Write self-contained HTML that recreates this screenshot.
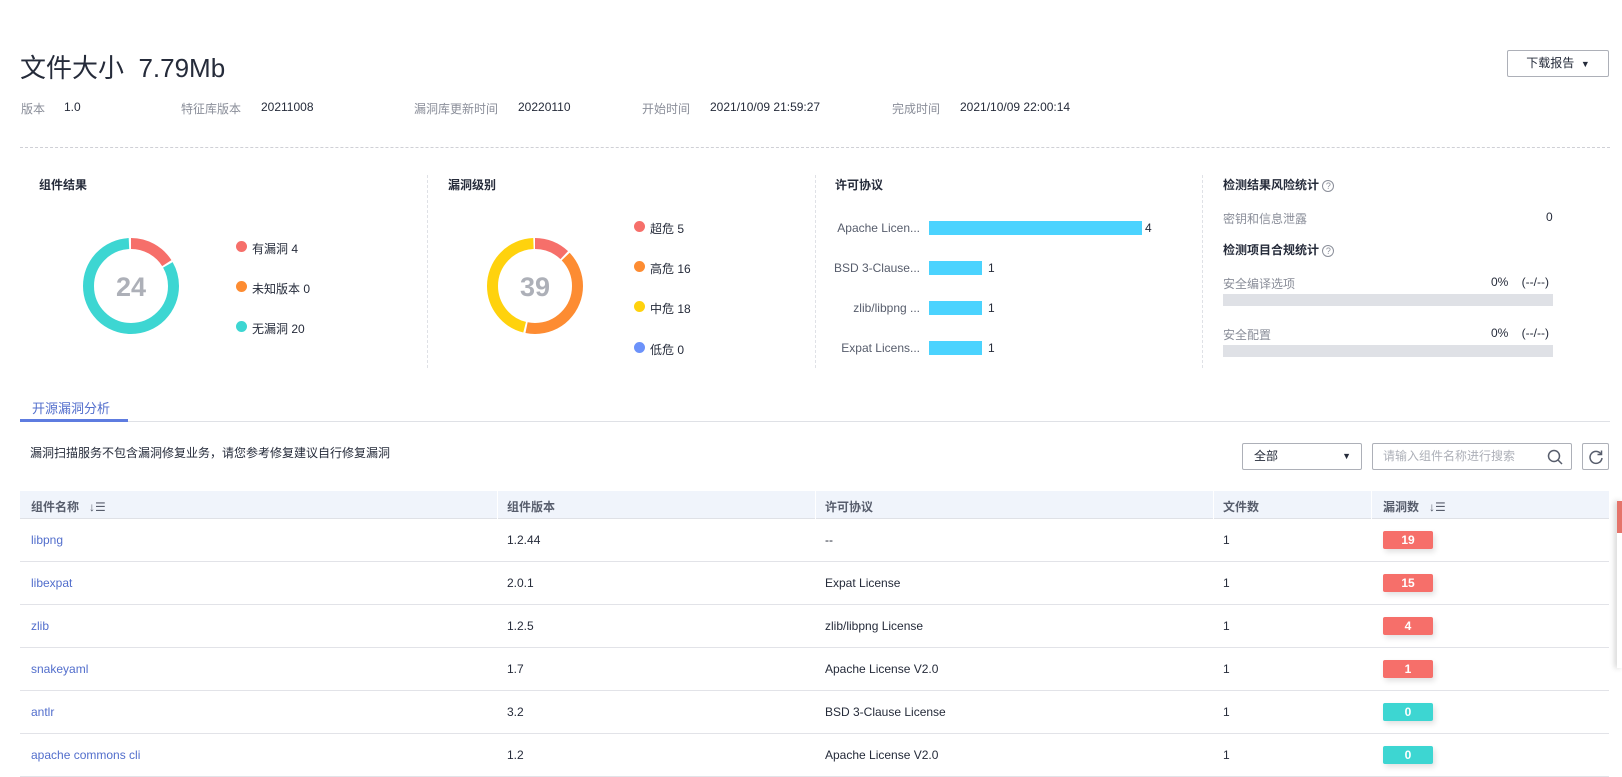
<!DOCTYPE html>
<html><head><meta charset="utf-8"><style>
*{margin:0;padding:0;box-sizing:border-box}
body{width:1622px;height:765px;overflow:hidden;background:#fff;font-family:"Liberation Sans","Noto Sans CJK SC",sans-serif;color:#252b3a;font-size:12px;position:relative}
.a{position:absolute;white-space:nowrap}
.g{color:#8a8e99}
.t{font-weight:bold;font-size:12px;color:#252b3a}
.vd{position:absolute;width:0;border-left:1px dashed #dfe1e6;top:175px;height:193px}
.dot{position:absolute;width:11px;height:11px;border-radius:50%}
.bar{position:absolute;height:14px;background:#4bd3fe;left:929px}
.row{position:absolute;left:20px;width:1589px;height:43px;border-bottom:1px solid #e2e3e8}
.row .a{top:0;line-height:43px}
.badge{position:absolute;left:1363px;top:12px;width:50px;height:18px;line-height:18px;text-align:center;color:#fff;font-weight:bold;border-radius:2px;box-shadow:2px 3px 6px rgba(0,0,0,.12)}
.lk{color:#526ecc}
</style></head><body>
<div class="a" style="left:20px;top:51px;font-size:26px;line-height:34px">文件大小&nbsp;&nbsp;7.79Mb</div>
<div class="a" style="left:1507px;top:50px;width:102px;height:27px;border:1px solid #adb0b8;border-radius:2px;text-align:center;line-height:25px">下载报告&nbsp;&nbsp;<span style="font-size:9px">▼</span></div>
<div class="a g" style="left:21px;top:100px">版本</div><div class="a" style="left:64px;top:100px">1.0</div>
<div class="a g" style="left:181px;top:100px">特征库版本</div><div class="a" style="left:261px;top:100px">20211008</div>
<div class="a g" style="left:414px;top:100px">漏洞库更新时间</div><div class="a" style="left:518px;top:100px">20220110</div>
<div class="a g" style="left:642px;top:100px">开始时间</div><div class="a" style="left:710px;top:100px">2021/10/09 21:59:27</div>
<div class="a g" style="left:892px;top:100px">完成时间</div><div class="a" style="left:960px;top:100px">2021/10/09 22:00:14</div>
<div class="a" style="left:20px;top:147px;width:1590px;border-top:1px dashed #cfd0d6"></div>

<div class="a t" style="left:39px;top:176px">组件结果</div>
<div class="a t" style="left:448px;top:176px">漏洞级别</div>
<div class="a t" style="left:835px;top:176px">许可协议</div>
<div class="a t" style="left:1223px;top:176px">检测结果风险统计 <span style="font-weight:normal;color:#8a8e99;border:1px solid #8a8e99;border-radius:50%;display:inline-block;width:12px;height:12px;font-size:9px;line-height:11px;text-align:center">?</span></div>
<div class="vd" style="left:427px"></div><div class="vd" style="left:815px"></div><div class="vd" style="left:1202px"></div>

<svg class="a" style="left:0;top:0" width="1622" height="400">
<g transform="rotate(-90 131 286)" fill="none" stroke-width="11">
<circle cx="131" cy="286" r="42.5" stroke="#f66f6a" stroke-dasharray="42.5 267"/>
<circle cx="131" cy="286" r="42.5" stroke="#3dd6d2" stroke-dasharray="220 267" stroke-dashoffset="-44.5"/>
</g>
<text x="131" y="296" font-size="27" font-weight="bold" fill="#adb0b8" text-anchor="middle" font-family="Liberation Sans">24</text>
<g transform="rotate(-90 535 286)" fill="none" stroke-width="11">
<circle cx="535" cy="286" r="42.5" stroke="#f66f6a" stroke-dasharray="32.2 267"/>
<circle cx="535" cy="286" r="42.5" stroke="#fd8c32" stroke-dasharray="107.6 267" stroke-dashoffset="-34.2"/>
<circle cx="535" cy="286" r="42.5" stroke="#ffd20d" stroke-dasharray="121.2 267" stroke-dashoffset="-143.8"/>
</g>
<text x="535" y="296" font-size="27" font-weight="bold" fill="#adb0b8" text-anchor="middle" font-family="Liberation Sans">39</text>
</svg>
<div class="dot" style="left:236px;top:241px;background:#f66f6a"></div><div class="a" style="left:252px;top:240px">有漏洞 4</div>
<div class="dot" style="left:236px;top:281px;background:#fd8c32"></div><div class="a" style="left:252px;top:280px">未知版本 0</div>
<div class="dot" style="left:236px;top:321px;background:#3dd6d2"></div><div class="a" style="left:252px;top:320px">无漏洞 20</div>
<div class="dot" style="left:634px;top:221px;background:#f66f6a"></div><div class="a" style="left:650px;top:220px">超危 5</div>
<div class="dot" style="left:634px;top:261px;background:#fd8c32"></div><div class="a" style="left:650px;top:260px">高危 16</div>
<div class="dot" style="left:634px;top:301px;background:#ffd20d"></div><div class="a" style="left:650px;top:300px">中危 18</div>
<div class="dot" style="left:634px;top:342px;background:#6c92fa"></div><div class="a" style="left:650px;top:341px">低危 0</div>

<div class="a" style="left:820px;width:100px;text-align:right;top:221px;color:#575d6c">Apache Licen...</div><div class="bar" style="top:221px;width:213px"></div><div class="a" style="left:1145px;top:221px">4</div>
<div class="a" style="left:820px;width:100px;text-align:right;top:261px;color:#575d6c">BSD 3-Clause...</div><div class="bar" style="top:261px;width:53px"></div><div class="a" style="left:988px;top:261px">1</div>
<div class="a" style="left:820px;width:100px;text-align:right;top:301px;color:#575d6c">zlib/libpng ...</div><div class="bar" style="top:301px;width:53px"></div><div class="a" style="left:988px;top:301px">1</div>
<div class="a" style="left:820px;width:100px;text-align:right;top:341px;color:#575d6c">Expat Licens...</div><div class="bar" style="top:341px;width:53px"></div><div class="a" style="left:988px;top:341px">1</div>

<div class="a g" style="left:1223px;top:210px">密钥和信息泄露</div><div class="a" style="left:1546px;top:210px">0</div>
<div class="a t" style="left:1223px;top:241px">检测项目合规统计 <span style="font-weight:normal;color:#8a8e99;border:1px solid #8a8e99;border-radius:50%;display:inline-block;width:12px;height:12px;font-size:9px;line-height:11px;text-align:center">?</span></div>
<div class="a g" style="left:1223px;top:275px">安全编译选项</div><div class="a" style="left:1491px;top:275px">0%&nbsp;&nbsp;&nbsp;&nbsp;(--/--)</div>
<div class="a" style="left:1223px;top:294px;width:330px;height:12px;background:#dfe1e6"></div>
<div class="a g" style="left:1223px;top:326px">安全配置</div><div class="a" style="left:1491px;top:326px">0%&nbsp;&nbsp;&nbsp;&nbsp;(--/--)</div>
<div class="a" style="left:1223px;top:345px;width:330px;height:12px;background:#dfe1e6"></div>

<div class="a" style="left:32px;top:398px;font-size:13px;color:#526ecc">开源漏洞分析</div>
<div class="a" style="left:20px;top:421px;width:1590px;height:1px;background:#dfe1e6"></div>
<div class="a" style="left:20px;top:419px;width:108px;height:3px;background:#5e7ce0"></div>
<div class="a" style="left:30px;top:444px">漏洞扫描服务不包含漏洞修复业务，请您参考修复建议自行修复漏洞</div>

<div class="a" style="left:1242px;top:443px;width:120px;height:27px;border:1px solid #adb0b8;border-radius:2px;padding-left:11px;line-height:25px">全部<span style="position:absolute;right:10px;font-size:9px">▼</span></div>
<div class="a" style="left:1372px;top:443px;width:200px;height:27px;border:1px solid #adb0b8;border-radius:2px;padding-left:10px;line-height:25px;color:#adb0b8">请输入组件名称进行搜索
<svg style="position:absolute;right:8px;top:5px" width="16" height="16"><circle cx="7" cy="7" r="5.5" fill="none" stroke="#575d6c" stroke-width="1.5"/><line x1="11" y1="11" x2="15" y2="15" stroke="#575d6c" stroke-width="1.5"/></svg></div>
<div class="a" style="left:1582px;top:443px;width:27px;height:27px;border:1px solid #adb0b8;border-radius:2px">
<svg style="position:absolute;left:5px;top:5px" width="16" height="16"><path d="M13 5 A6 6 0 1 0 14 9" fill="none" stroke="#575d6c" stroke-width="1.5"/><path d="M13.5 1.5 L13.5 5.5 L9.5 5.5" fill="none" stroke="#575d6c" stroke-width="1.5"/></svg></div>

<div class="a" style="left:20px;top:491px;width:1589px;height:28px;background:#f0f4fb;border-bottom:1px solid #dfe1e6"></div>
<div class="a" style="left:1213px;top:491px;width:1px;height:28px;background:#fff"></div>
<div class="a" style="left:1371px;top:491px;width:1px;height:28px;background:#fff"></div>
<div class="a" style="left:497px;top:491px;width:1px;height:28px;background:#fff"></div>
<div class="a" style="left:815px;top:491px;width:1px;height:28px;background:#fff"></div>
<div class="a t" style="left:31px;top:498px;color:#575d6c">组件名称&nbsp;&nbsp;&nbsp;<span style="font-weight:normal">↓☰</span></div>
<div class="a t" style="left:507px;top:498px;color:#575d6c">组件版本</div>
<div class="a t" style="left:825px;top:498px;color:#575d6c">许可协议</div>
<div class="a t" style="left:1223px;top:498px;color:#575d6c">文件数</div>
<div class="a t" style="left:1383px;top:498px;color:#575d6c">漏洞数&nbsp;&nbsp;&nbsp;<span style="font-weight:normal">↓☰</span></div>

<div class="row" style="top:519px"><div class="a lk" style="left:11px">libpng</div><div class="a" style="left:487px">1.2.44</div><div class="a" style="left:805px">--</div><div class="a" style="left:1203px">1</div><div class="badge" style="background:#f66f6a">19</div></div>
<div class="row" style="top:562px"><div class="a lk" style="left:11px">libexpat</div><div class="a" style="left:487px">2.0.1</div><div class="a" style="left:805px">Expat License</div><div class="a" style="left:1203px">1</div><div class="badge" style="background:#f66f6a">15</div></div>
<div class="row" style="top:605px"><div class="a lk" style="left:11px">zlib</div><div class="a" style="left:487px">1.2.5</div><div class="a" style="left:805px">zlib/libpng License</div><div class="a" style="left:1203px">1</div><div class="badge" style="background:#f66f6a">4</div></div>
<div class="row" style="top:648px"><div class="a lk" style="left:11px">snakeyaml</div><div class="a" style="left:487px">1.7</div><div class="a" style="left:805px">Apache License V2.0</div><div class="a" style="left:1203px">1</div><div class="badge" style="background:#f66f6a">1</div></div>
<div class="row" style="top:691px"><div class="a lk" style="left:11px">antlr</div><div class="a" style="left:487px">3.2</div><div class="a" style="left:805px">BSD 3-Clause License</div><div class="a" style="left:1203px">1</div><div class="badge" style="background:#3dd6d2">0</div></div>
<div class="row" style="top:734px"><div class="a lk" style="left:11px">apache commons cli</div><div class="a" style="left:487px">1.2</div><div class="a" style="left:805px">Apache License V2.0</div><div class="a" style="left:1203px">1</div><div class="badge" style="background:#3dd6d2">0</div></div>

<div class="a" style="left:1617px;top:501px;width:5px;height:167px;background:#fff;box-shadow:-2px 0 6px rgba(0,0,0,.2)"></div>
<div class="a" style="left:1617px;top:501px;width:5px;height:32px;background:#e5746a"></div>
</body></html>
